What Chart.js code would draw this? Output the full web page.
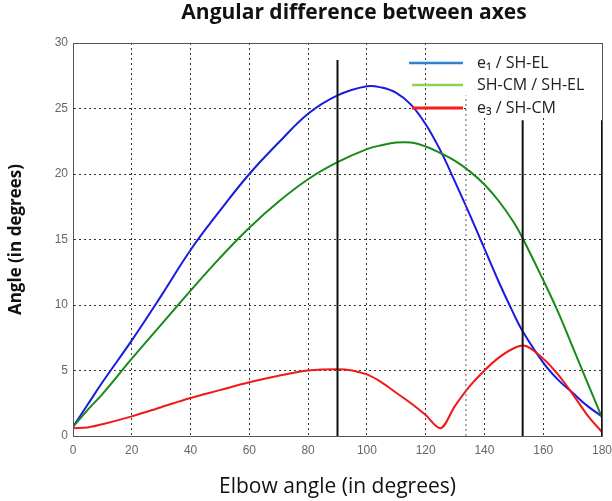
<!DOCTYPE html>
<html>
<head>
<meta charset="utf-8">
<script src="https://cdn.jsdelivr.net/npm/chart.js@4"></script>
<style>
  html, body { margin: 0; padding: 0; background: #fff; }
  #wrap { width: 612px; height: 501px; }
</style>
</head>
<body>
<div id="wrap"><canvas id="angleChart"></canvas></div>
<script>
// elbow angles (x)
const elbowAngles = [0, 5, 10, 20, 30, 40, 50, 60, 70, 80, 90, 100, 105, 110, 115, 120, 125, 130, 135, 140, 145, 150, 153, 160, 165, 170, 175, 180];

// e1 / SH-EL
const e1ShEl = [0.7, 2.4, 4.1, 7.3, 10.7, 14.2, 17.2, 20.0, 22.4, 24.6, 26.0, 26.7, 26.6, 26.2, 25.3, 23.8, 21.8, 19.4, 16.9, 14.3, 11.7, 9.3, 8.0, 5.6, 4.3, 3.3, 2.3, 1.5];

// SH-CM / SH-EL
const shCmShEl = [0.7, 2.0, 3.2, 5.9, 8.5, 11.1, 13.6, 15.9, 17.9, 19.6, 20.9, 21.9, 22.2, 22.4, 22.4, 22.1, 21.6, 21.0, 20.2, 19.2, 17.9, 16.3, 15.1, 11.9, 9.5, 6.8, 4.1, 1.4];

// e3 / SH-CM
const e3ShCm = [0.6, 0.65, 0.9, 1.5, 2.2, 2.9, 3.5, 4.1, 4.6, 5.0, 5.1, 4.7, 4.1, 3.3, 2.5, 1.6, 0.6, 2.3, 3.8, 5.0, 6.0, 6.7, 6.9, 5.9, 4.7, 3.2, 1.6, 0.3];

// vertical markers
const markerAngles = [90, 153, 180];
const markerTops = [28.7, 24.1, 24.1];
const dottedMarkerAngle = 133.7;
const dottedMarkerTop = 26.0;

const legendLabels = ["e\u2081 / SH-EL", "SH-CM / SH-EL", "e\u2083 / SH-CM"];
const legendColors = ["#2f7fd0", "#92d050", "#ff1a1a"];
const chartTitle = "Angular difference between axes";

function toPoints(xs, ys) {
    return xs.map((x, i) => ({ x: x, y: ys[i] }));
}

const datasets = [];

// black marker lines (drawn on top)
markerAngles.forEach((a, i) => {
    datasets.push({
        data: [{ x: a, y: 0 }, { x: a, y: markerTops[i] }],
        borderColor: "#111",
        borderWidth: 2,
        pointRadius: 0
    });
});

datasets.push({
    data: [{ x: dottedMarkerAngle, y: 0 }, { x: dottedMarkerAngle, y: dottedMarkerTop }],
    borderColor: "#777",
    borderWidth: 1.2,
    borderDash: [2, 3],
    pointRadius: 0
});

datasets.push({
    data: toPoints(elbowAngles, e3ShCm),
    borderColor: "#f01818",
    borderWidth: 2,
    pointRadius: 0,
    cubicInterpolationMode: "monotone"
});

datasets.push({
    data: toPoints(elbowAngles, shCmShEl),
    borderColor: "#1a8a1a",
    borderWidth: 2,
    pointRadius: 0,
    tension: 0.4
});

datasets.push({
    data: toPoints(elbowAngles, e1ShEl),
    borderColor: "#1a1ae0",
    borderWidth: 2,
    pointRadius: 0,
    tension: 0.4
});

// legend box, frame, title drawn by hand
const decorations = {
    id: "decorations",
    beforeDatasetsDraw(chart) {
        // white legend box hides the grid behind it
        const ctx = chart.ctx;
        const area = chart.chartArea;
        const y = chart.scales.y;
        const left = chart.scales.x.getPixelForValue(dottedMarkerAngle) + 1;
        ctx.save();
        ctx.fillStyle = "#fff";
        ctx.fillRect(left, area.top, area.right - left, y.getPixelForValue(24.3) - area.top);
        ctx.restore();
    },
    afterDraw(chart) {
        const ctx = chart.ctx;
        const area = chart.chartArea;
        ctx.save();

        // frame
        ctx.strokeStyle = "#555";
        ctx.lineWidth = 1;
        ctx.strokeRect(area.left + 0.5, area.top + 0.5, area.right - area.left, area.bottom - area.top);

        // title
        ctx.fillStyle = "#111";
        ctx.font = "bold 21px 'Open Sans'";
        ctx.textAlign = "center";
        ctx.textBaseline = "middle";
        ctx.fillText(chartTitle, 354, 13);

        // legend
        ctx.textAlign = "left";
        ctx.font = "16px 'Open Sans'";
        const rowY = [63, 85, 108];
        legendLabels.forEach((label, i) => {
            ctx.strokeStyle = legendColors[i];
            ctx.lineWidth = i === 2 ? 3 : 2.5;
            ctx.beginPath();
            ctx.moveTo(i === 0 ? 409 : 412, rowY[i]);
            ctx.lineTo(463, rowY[i]);
            ctx.stroke();
            ctx.fillStyle = "#222";
            ctx.fillText(label, 477, rowY[i]);
        });
        ctx.restore();
    }
};

const gridStyle = {
    color: "#333",
    lineWidth: 1,
    drawTicks: false
};

new Chart(document.getElementById("angleChart"), {
    type: "line",
    data: { datasets },
    plugins: [decorations],
    options: {
        responsive: true,
        maintainAspectRatio: false,
        animation: false,
        layout: {
            padding: { top: 43, right: 10, left: 0, bottom: 0 }
        },
        plugins: {
            legend: { display: false },
            tooltip: { enabled: false }
        },
        scales: {
            x: {
                type: "linear",
                min: 0,
                max: 180,
                afterFit(scale) {
                    scale.height = 65;
                    scale.paddingRight = 0;
                    scale.paddingLeft = 0;
                },
                ticks: {
                    stepSize: 20,
                    padding: 7,
                    color: "#666",
                    font: { family: "'Liberation Sans'", size: 12 }
                },
                grid: gridStyle,
                border: { display: true, color: "#555", dash: [2, 3] },
                title: {
                    display: true,
                    text: "Elbow angle (in degrees)",
                    color: "#111",
                    font: { family: "'Open Sans'", size: 21 },
                    padding: { top: 0, bottom: 1 }
                }
            },
            y: {
                min: 0,
                max: 30,
                afterFit(scale) { scale.width = 73; },
                ticks: {
                    stepSize: 5,
                    padding: 5,
                    color: "#666",
                    font: { family: "'Liberation Sans'", size: 12 }
                },
                grid: gridStyle,
                border: { display: true, color: "#555", dash: [2, 3] },
                title: {
                    display: true,
                    text: "Angle (in degrees)",
                    color: "#111",
                    font: { family: "'Open Sans'", size: 17, weight: "bold" },
                    padding: { top: 6, bottom: 0 }
                }
            }
        }
    }
});
</script>
</body>
</html>
